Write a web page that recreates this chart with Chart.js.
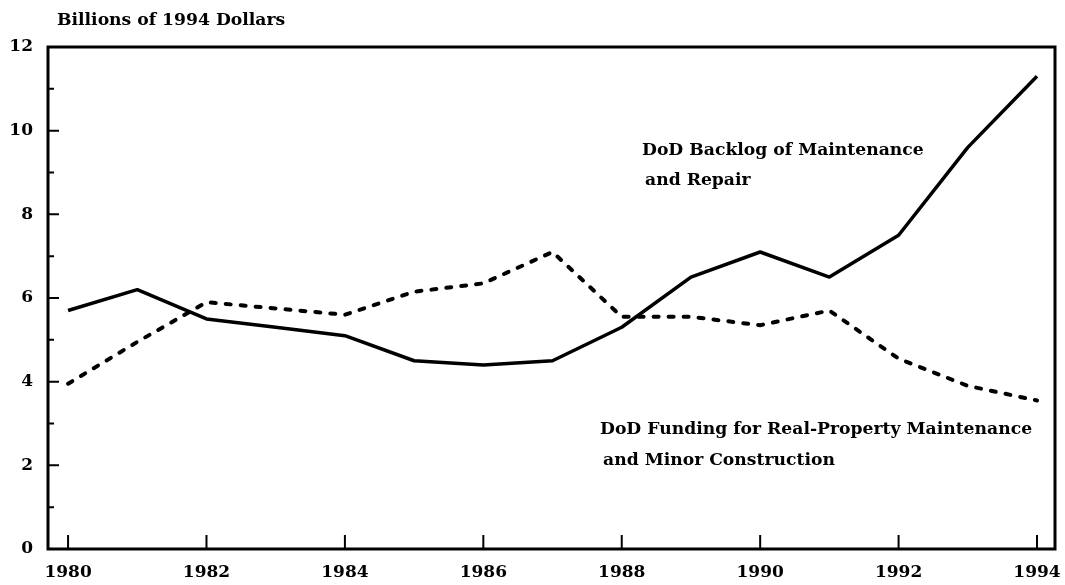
<!DOCTYPE html>
<html>
<head>
<meta charset="utf-8">
<script src="https://cdn.jsdelivr.net/npm/chart.js@4"></script>
<style>
  html, body { margin: 0; padding: 0; background: #fff; }
  #wrap { width: 1065px; height: 585px; }
</style>
</head>
<body>
<div id="wrap"><canvas id="myChart"></canvas></div>
<script>
"use strict";

//Data (billions of 1994 dollars)
const years = [1980, 1981, 1982, 1983, 1984, 1985, 1986, 1987, 1988, 1989, 1990, 1991, 1992, 1993, 1994];
const backlog = [5.7, 6.2, 5.5, 5.3, 5.1, 4.5, 4.4, 4.5, 5.3, 6.5, 7.1, 6.5, 7.5, 9.6, 11.3];
const funding = [3.95, 4.95, 5.9, 5.75, 5.6, 6.15, 6.35, 7.1, 5.55, 5.55, 5.35, 5.7, 4.55, 3.9, 3.55];

//Tick labels
const xTickYears = [1980, 1982, 1984, 1986, 1988, 1990, 1992, 1994];
const yTickValues = [0, 2, 4, 6, 8, 10, 12];

//Texts
const unitLabel = "Billions of 1994 Dollars";
const backlogLabel = ["DoD Backlog of Maintenance", "and Repair"];
const fundingLabel = ["DoD Funding for Real-Property Maintenance", "and Minor Construction"];

const FONT = "'DejaVu Serif', serif";

//Frame, inward ticks and the text labels
const framePlugin = {
  id: 'frame',
  afterDraw(chart) {
    const { ctx, chartArea: a, scales: { x, y } } = chart;
    ctx.save();
    ctx.strokeStyle = '#000';
    ctx.lineCap = 'butt';

    ctx.lineWidth = 3;
    ctx.strokeRect(a.left, a.top, a.right - a.left, a.bottom - a.top);

    //y ticks: long at labelled values, short between them
    ctx.lineWidth = 2;
    ctx.beginPath();
    for (let v = 1; v < 12; v++) {
      const py = y.getPixelForValue(v);
      const len = v % 2 === 0 ? 11 : 6;
      ctx.moveTo(a.left, py);
      ctx.lineTo(a.left + len, py);
    }
    //x ticks pointing up
    xTickYears.forEach(yr => {
      const px = x.getPixelForValue(yr);
      ctx.moveTo(px, a.bottom);
      ctx.lineTo(px, a.bottom - 14);
    });
    ctx.stroke();

    ctx.fillStyle = '#000';
    ctx.textBaseline = 'alphabetic';
    ctx.textAlign = 'left';
    ctx.font = "bold 17.2px " + FONT;
    ctx.fillText(unitLabel, 57, 25);

    ctx.fillText(backlogLabel[0], 642, 155);
    ctx.fillText(backlogLabel[1], 645, 185);

    ctx.fillText(fundingLabel[0], 600, 434);
    ctx.fillText(fundingLabel[1], 603, 465);
    ctx.restore();
  }
};

function toPoints(values) {
  return years.map((yr, i) => ({ x: yr, y: values[i] }));
}

function drawChart() {
  const ctx = document.getElementById('myChart');

  new Chart(ctx, {
    type: 'line',
    data: {
      datasets: [{
        label: 'DoD Backlog of Maintenance and Repair',
        data: toPoints(backlog),
        borderColor: '#000',
        borderWidth: 3.5,
        borderJoinStyle: 'round',
        pointRadius: 0,
        tension: 0
      }, {
        label: 'DoD Funding for Real-Property Maintenance and Minor Construction',
        data: toPoints(funding),
        borderColor: '#000',
        borderWidth: 4,
        borderDash: [5, 10],
        borderCapStyle: 'round',
        pointRadius: 0,
        tension: 0
      }]
    },
    options: {
      responsive: true,
      maintainAspectRatio: false,
      animation: false,
      layout: { padding: { top: 47, right: 10, left: 0, bottom: 0 } },
      plugins: {
        legend: { display: false },
        tooltip: { enabled: false }
      },
      scales: {
        x: {
          type: 'linear',
          min: 1979.71,
          max: 1994.26,
          grid: { display: false, drawTicks: false },
          border: { display: false },
          afterBuildTicks: scale => { scale.ticks = xTickYears.map(v => ({ value: v })); },
          afterFit: scale => {
            scale.height = 36;
            scale.paddingLeft = 0;
            scale.paddingRight = 0;
          },
          ticks: {
            padding: 13,
            color: '#000',
            font: { family: FONT, size: 17, weight: 'bold' },
            callback: v => String(v),
            maxRotation: 0
          }
        },
        y: {
          min: 0,
          max: 12,
          grid: { display: false, drawTicks: false },
          border: { display: false },
          afterBuildTicks: scale => { scale.ticks = yTickValues.map(v => ({ value: v })); },
          afterFit: scale => {
            scale.width = 48;
            scale.paddingTop = 0;
            scale.paddingBottom = 0;
          },
          ticks: {
            padding: 15,
            color: '#000',
            font: { family: FONT, size: 17, weight: 'bold' },
            callback: v => String(v)
          }
        }
      }
    },
    plugins: [framePlugin]
  });
}

drawChart();
</script>
</body>
</html>
